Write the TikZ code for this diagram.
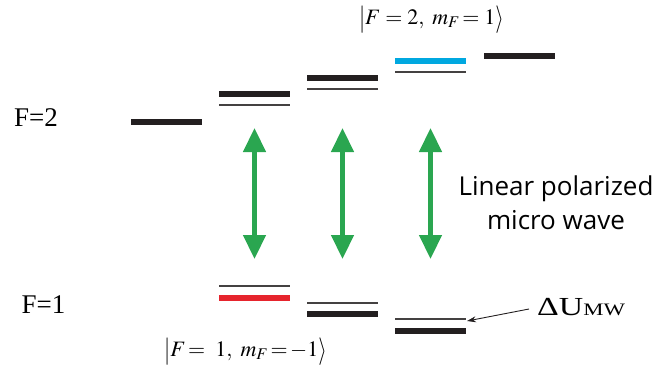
\documentclass[tikz,border=0pt]{standalone}
\usepackage{mathptmx}
\usepackage{fontspec}
\setmainfont{Liberation Serif}
\newfontfamily\comicfont{Open Sans}
\usetikzlibrary{arrows.meta}
\definecolor{lvlblack}{RGB}{35,31,32}
\definecolor{lvlblue}{RGB}{0,168,224}
\definecolor{lvlred}{RGB}{230,36,45}
\definecolor{mwgreen}{RGB}{42,166,80}
\newcommand\ketbar{\raisebox{-0.12em}{\scalebox{1}[1.25]{$|$}}}
\newcommand\ketend{\raisebox{-0.12em}{\scalebox{1}[1.25]{$\rangle$}}}
\begin{document}
\begin{tikzpicture}[x=1pt,y=-1pt,
  thicklevel/.style={line width=5.5pt, draw=lvlblack},
  thinlevel/.style={line width=1.1pt, draw=lvlblack!85},
  bluelevel/.style={line width=5.5pt, draw=lvlblue},
  redlevel/.style={line width=5.5pt, draw=lvlred},
  mwarrow/.style={line width=4.5pt, draw=mwgreen, {Triangle[width=22pt,length=24pt]}-{Triangle[width=22pt,length=24pt]}},
  flabel/.style={font=\fontsize{27}{30}\selectfont, inner sep=0pt},
  ketlabel/.style={font=\fontsize{22}{26}\selectfont, inner sep=0pt},
  notearrow/.style={line width=0.9pt, draw=lvlblack, -{Stealth[length=9pt,width=6pt]}}
]
\useasboundingbox (0,0) rectangle (671,367);
% F=2 manifold
\draw[thicklevel] (131,122) -- (202,122);
\draw[thicklevel] (219,94) -- (290,94);
\draw[thinlevel]  (219,105) -- (290,105);
\draw[thicklevel] (307,78) -- (378,78);
\draw[thinlevel]  (307,89) -- (378,89);
\draw[bluelevel]  (395,61) -- (466,61);
\draw[thinlevel]  (395,72) -- (466,72);
\draw[thicklevel] (484,56) -- (555,56);
% F=1 manifold
\draw[thinlevel]  (219,286) -- (290,286);
\draw[redlevel]   (219,298) -- (290,298);
\draw[thinlevel]  (307,303) -- (378,303);
\draw[thicklevel] (307,314) -- (378,314);
\draw[thinlevel]  (395,319) -- (466,319);
\draw[thicklevel] (395,331) -- (466,331);
\coordinate (lvlend) at (467,321);
% microwave arrows
\coordinate (a1t) at (254.5,128); \coordinate (a1b) at (254.5,259);
\coordinate (a2t) at (342.5,128); \coordinate (a2b) at (342.5,259);
\coordinate (a3t) at (430.5,128); \coordinate (a3b) at (430.5,259);
\draw[mwarrow] (a1t) -- (a1b);
\draw[mwarrow] (a2t) -- (a2b);
\draw[mwarrow] (a3t) -- (a3b);
% labels
\node[flabel] (f2) at (36,118) {F=2};
\node[flabel] (f1) at (43.5,304.5) {F=1};
\node[ketlabel] (ktop) at (431.5,20) {\ketbar$F=2,\ m_F\!=1$\ketend};
\node[ketlabel] (kbot) at (245.5,352) {\ketbar$F\!=\ 1,\ m_F\!=\!-1$\ketend};
\node[font=\comicfont\fontsize{26}{34}\selectfont, align=center, inner sep=0pt] (mw) at (556,203) {Linear polarized\\micro wave};
\node[anchor=base west, inner sep=0pt] (du) at (537,315) {\scalebox{1.3}[1]{\fontsize{26}{28}\selectfont ΔU{\fontsize{17.5}{19}\selectfont MW}}};
\coordinate (dustart) at (529,309);
\draw[notearrow] (dustart) -- (lvlend);
\end{tikzpicture}
\end{document}
